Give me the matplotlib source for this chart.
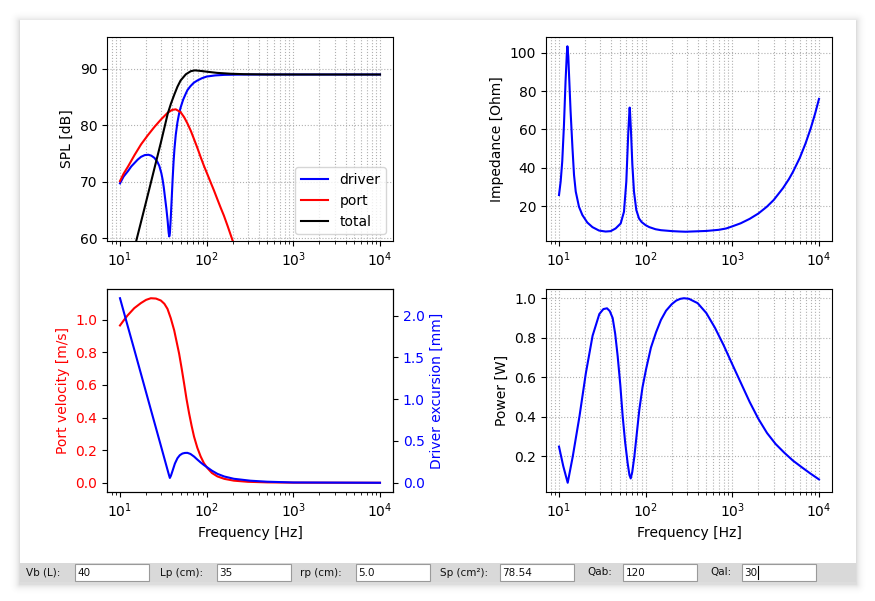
import math
import matplotlib
matplotlib.use('Agg')
import matplotlib.pyplot as plt
from matplotlib.patches import Rectangle, FancyBboxPatch

# ---------------- data ----------------
f_drv = [10, 11, 12.4, 13.5, 14.7, 16, 17.5, 19.3, 21.3, 23, 25, 27, 28.4, 30, 31, 32, 33,
         34.3, 35.5, 36.4, 37.0, 37.6, 38.5, 39.5, 40.5, 41.5, 42.5, 44, 46, 48, 50, 53.5,
         57.5, 60, 65, 71, 78, 88, 100, 125, 160, 250, 500, 1000, 10000]
spl_drv = [69.7, 70.9, 71.9, 72.7, 73.3, 73.9, 74.4, 74.7, 74.76, 74.6, 74.2, 73.5, 72.8, 71.5,
           70.4, 69.0, 67.3, 65.2, 63.0, 61.0, 60.3, 60.8, 63.5, 67.0, 70.5, 73.5, 75.8, 78.3,
           80.5, 82.0, 83.1, 84.5, 85.6, 86.2, 86.9, 87.5, 87.9, 88.3, 88.6, 88.8, 88.9, 88.95,
           88.96, 88.96, 88.96]

f_port = [10, 11, 12.4, 14.7, 17.5, 20.9, 25, 29.7, 35.5, 40, 44, 50, 55, 60, 65.6, 72,
          78, 85, 93, 102, 111, 121, 132, 145, 158, 175, 199, 220, 300, 500, 1000, 2000,
          5000, 10000]
spl_port = [70.1, 71.4, 72.7, 74.7, 76.6, 78.2, 79.7, 81.0, 82.2, 82.7, 82.8, 82.3, 81.4,
            80.3, 79.0, 77.4, 76.0, 74.4, 72.8, 71.3, 69.9, 68.5, 67.0, 65.4, 64.0, 62.1, 59.6,
            57.8, 52.6, 44.5, 32.5, 20.5, 4.5, -7.5]

f_tot = [10, 12.4, 14.7, 17.5, 20.9, 25, 29.7, 35.5, 38.7, 42.3, 46, 50, 57.5, 65.6, 73, 85,
         102, 132, 188, 268, 500, 10000]
spl_tot = [46.5, 53.0, 58.3, 62.9, 67.6, 72.4, 77.0, 82.0, 83.8, 85.4, 86.8, 87.9, 89.0,
           89.55, 89.7, 89.6, 89.45, 89.25, 89.1, 89.02, 88.97, 88.96]

f_imp = [10, 10.45, 10.9, 11.4, 11.9, 12.3, 12.5, 12.8, 13.0, 13.6, 14.3, 14.9, 15.6, 17.0,
         18.6, 21.2, 24.3, 29, 34.5, 39.5, 45, 51.5, 56.2, 59.8, 63.1, 65.0, 65.4, 66, 67.7,
         70.2, 73.3, 78, 83.8, 90, 100, 110, 130, 150, 203, 250, 290, 500, 700, 850, 1000,
         1250, 1585, 2000, 2500, 3000, 3843, 4500, 5000, 6000, 7000, 8000, 9000, 10000]
imp = [25.9, 32.9, 43.4, 62, 85, 99, 103.3, 98, 90.6, 69.6, 50.4, 36.4, 27.7, 19.8, 15.5,
       11.6, 9.2, 7.4, 6.9, 7.1, 8.5, 11.1, 17.2, 32.9, 59.1, 70, 71.4, 69, 59.1, 41.7, 27.7,
       18.1, 13.7, 11.8, 10.2, 9.2, 8.1, 7.6, 7.1, 6.9, 6.8, 7.2, 7.8, 8.5, 9.6, 11.2, 13.5,
       16.3, 19.8, 23.3, 29.5, 34.2, 37.9, 45.2, 52.8, 60.4, 68.1, 75.9]

f_vel = [10, 11, 12.2, 14.6, 17.4, 20, 22.7, 26, 29.6, 32.5, 35.3, 38.5, 42.2, 45, 48.1, 51.5,
         54.9, 58.5, 62.7, 67, 71.5, 78, 85.3, 93, 102, 115, 133, 160, 206, 300, 500, 1000,
         10000]
vel = [0.965, 0.995, 1.026, 1.071, 1.102, 1.122, 1.132, 1.13, 1.118, 1.098, 1.067, 1.01, 0.935,
       0.865, 0.792, 0.70, 0.609, 0.515, 0.426, 0.35, 0.283, 0.215, 0.161, 0.12, 0.09, 0.06,
       0.039, 0.024, 0.013, 0.006, 0.0025, 0.0008, 0.00002]

f_exc = [10, 12, 14.6, 18, 22.7, 26, 29.6, 32.5, 35.3, 36.7, 37.6, 38.7, 40.3, 43, 46, 49,
         52.5, 56, 60, 65, 71.5, 78, 85.3, 93, 102, 115, 133, 160, 206, 320, 498, 1000, 10000]
exc = [2.207, 1.91, 1.594, 1.253, 0.875, 0.655, 0.445, 0.292, 0.157, 0.094, 0.058, 0.085, 0.14,
       0.23, 0.294, 0.33, 0.35, 0.357, 0.358, 0.345, 0.314, 0.278, 0.243, 0.212, 0.183, 0.145,
       0.107, 0.075, 0.048, 0.025, 0.013, 0.004, 0.0003]

f_pow = [10, 11.2, 12.6, 14.4, 17.2, 20.4, 24.4, 29.2, 32.5, 35.8, 38.5, 41.6, 44.5, 47.5, 51,
         54.3, 58, 62, 65, 67.2, 70, 74, 84.5, 92, 101, 115, 131.6, 150, 172, 200, 225, 251,
         277, 316, 398, 501, 631, 794, 1000, 1259, 1585, 1995, 2512, 3162, 3981, 5012, 6310,
         7943, 10000]
power = [0.249, 0.15, 0.066, 0.198, 0.40, 0.62, 0.81, 0.92, 0.945, 0.949, 0.935, 0.90, 0.82,
         0.708, 0.56, 0.402, 0.27, 0.164, 0.105, 0.088, 0.12, 0.198, 0.436, 0.55, 0.64, 0.75,
         0.827, 0.89, 0.937, 0.97, 0.988, 0.997, 1.0, 0.997, 0.975, 0.925, 0.85, 0.762, 0.665,
         0.57, 0.475, 0.39, 0.318, 0.262, 0.218, 0.178, 0.145, 0.113, 0.083]

param_labels = ["Vb (L):", "Lp (cm):", "rp (cm):", "Sp (cm\u00b2):", "Qab:", "Qal:"]
param_values = ["40", "35", "5.0", "78.54", "120", "30"]

# ---------------- figure / window decoration ----------------
W, H = 875, 601
fig = plt.figure(figsize=(W / 100, H / 100), dpi=100)
fig.patch.set_facecolor('white')

bg = fig.add_axes([0, 0, 1, 1], zorder=-10)
bg.set_xlim(0, W)
bg.set_ylim(H, 0)
bg.axis('off')

wx0, wy0, wx1, wy1 = 19.5, 19.5, 855.5, 582
for i in range(16, 0, -1):
    bg.add_patch(FancyBboxPatch((wx0 + 0.5, wy0 + 2), wx1 - wx0, wy1 - wy0,
                                boxstyle="round,pad=%g,rounding_size=%g" % (i, i),
                                facecolor='black', edgecolor='none',
                                alpha=0.045 * math.exp(-i / 3.5)))
bg.add_patch(Rectangle((wx0, wy0), wx1 - wx0, wy1 - wy0, facecolor='white', edgecolor='none'))
bg.add_patch(Rectangle((wx0, 562.5), wx1 - wx0, wy1 - 562.5, facecolor='#d9d9d9', edgecolor='none'))

label_x = [26, 160, 300, 440, 587, 710]
box_x = [75, 217, 356, 500, 623, 742]
for lab, val, lx, bx in zip(param_labels, param_values, label_x, box_x):
    bg.text(lx, 572.5, lab, fontsize=7.5, va='center', ha='left', color='#111111')
    bg.add_patch(Rectangle((bx, 563.5), 74, 17, facecolor='white', edgecolor='#9a9a9a', lw=0.8))
    bg.text(bx + 2.5, 572.5, val, fontsize=7.5, va='center', ha='left', color='#111111')
# text cursor after the last value
bg.plot([757.5, 757.5], [566, 579], color='black', lw=0.8)

# ---------------- plots ----------------
def rect(l, t, r, b):
    return [l / W, 1 - b / H, (r - l) / W, (b - t) / H]

grid_kw = dict(which='both', linestyle=':', color='#b0b0b0', linewidth=0.8)

ax1 = fig.add_axes(rect(107, 37, 393, 241))
ax1.semilogx(f_drv, spl_drv, color='blue', label='driver')
ax1.semilogx(f_port, spl_port, color='red', label='port')
ax1.semilogx(f_tot, spl_tot, color='black', label='total')
ax1.set_ylim(59.5, 95.6)
ax1.set_ylabel('SPL [dB]')
ax1.grid(True, **grid_kw)
ax1.legend(loc='lower right')

ax2 = fig.add_axes(rect(546, 37, 832, 241))
ax2.semilogx(f_imp, imp, color='blue')
ax2.set_ylabel('Impedance [Ohm]')
ax2.grid(True, **grid_kw)

ax3 = fig.add_axes(rect(107, 289, 393, 492))
ax3.semilogx(f_vel, vel, color='red')
ax3.set_ylabel('Port velocity [m/s]', color='red')
ax3.tick_params(axis='y', labelcolor='red')
ax3.set_xlabel('Frequency [Hz]')
ax3b = ax3.twinx()
ax3b.semilogx(f_exc, exc, color='blue')
ax3b.set_ylabel('Driver excursion [mm]', color='blue')
ax3b.tick_params(axis='y', labelcolor='blue')

ax4 = fig.add_axes(rect(546, 289, 832, 492))
ax4.semilogx(f_pow, power, color='blue')
ax4.set_ylabel('Power [W]')
ax4.set_xlabel('Frequency [Hz]')
ax4.grid(True, **grid_kw)

fig.savefig('out.png', dpi=100)
